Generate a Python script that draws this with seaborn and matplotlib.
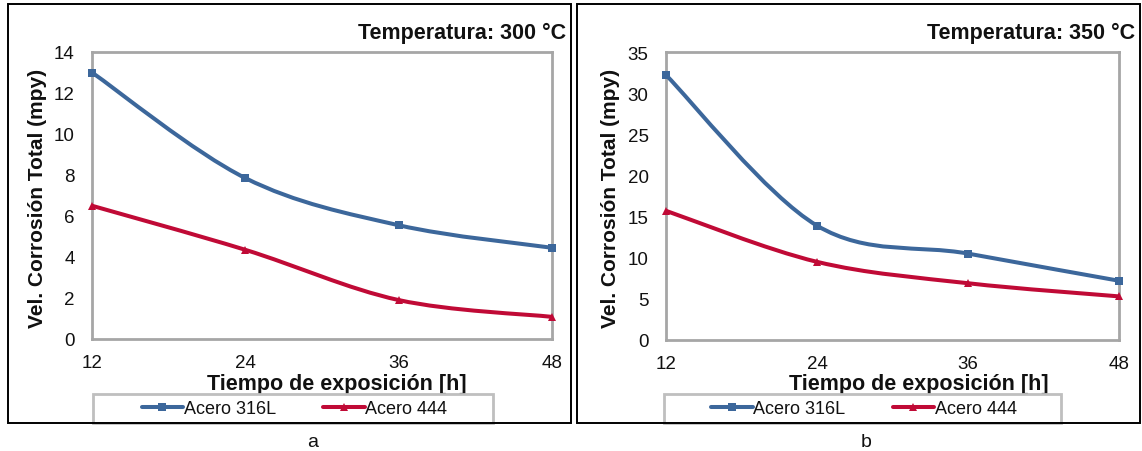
import numpy as np
import pandas as pd
import matplotlib
matplotlib.use("Agg")
import matplotlib.pyplot as plt
import seaborn as sns
from matplotlib.path import Path
from matplotlib.patches import PathPatch, Rectangle
from matplotlib.lines import Line2D

# ---------------- data ----------------
horas = [12, 24, 36, 48]
series = ["Acero 316L", "Acero 444"]
acero316L_300 = [13.0, 7.85, 5.55, 4.45]
acero444_300 = [6.5, 4.35, 1.9, 1.08]
acero316L_350 = [32.2, 13.9, 10.5, 7.2]
acero444_350 = [15.7, 9.5, 6.9, 5.3]
titulos = ["Temperatura: 300 °C", "Temperatura: 350 °C"]
etiquetas = ["a", "b"]
xlabel = "Tiempo de exposición [h]"
ylabel = "Vel. Corrosión Total (mpy)"

colores = {"Acero 316L": "#3c679b", "Acero 444": "#c00a36"}
marcadores = {"Acero 316L": "s", "Acero 444": "^"}

sns.set_theme(style="white")
plt.rcParams["font.family"] = ["Liberation Sans", "DejaVu Sans"]

W, H = 1142, 452
fig = plt.figure(figsize=(W / 100, H / 100), dpi=100)


def fx(px):
    return px / W


def fy(py):
    return 1 - py / H


def smooth_path(x, y, k=1 / 6):
    n = len(x)
    verts = [(x[0], y[0])]
    codes = [Path.MOVETO]
    for i in range(n - 1):
        p0 = i - 1 if i > 0 else i
        p3 = i + 2 if i + 2 < n else i + 1
        c1 = (x[i] + (x[i + 1] - x[p0]) * k, y[i] + (y[i + 1] - y[p0]) * k)
        c2 = (x[i + 1] - (x[p3] - x[i]) * k, y[i + 1] - (y[p3] - y[i]) * k)
        verts += [c1, c2, (x[i + 1], y[i + 1])]
        codes += [Path.CURVE4] * 3
    return Path(verts, codes)


paneles = [
    dict(data={"Acero 316L": acero316L_300, "Acero 444": acero444_300},
         ax_px=(92, 53, 552, 340), ymax=14, ystep=2,
         border=(8, 5, 571, 424), title_x=566, xlab_x=336.5, ylab_x=38,
         legend_box=(93, 395, 493, 424), legend_cx=294.5, label_x=313),
    dict(data={"Acero 316L": acero316L_350, "Acero 444": acero444_350},
         ax_px=(666, 53, 1119, 341), ymax=35, ystep=5,
         border=(577, 5, 1140, 424), title_x=1135, xlab_x=919, ylab_x=610,
         legend_box=(664, 395, 1061, 424), legend_cx=864, label_x=866),
]

frame_col = "#a6a6a6"

for p, titulo, etq in zip(paneles, titulos, etiquetas):
    x0, y0, x1, y1 = p["ax_px"]
    ax = fig.add_axes([fx(x0), fy(y1), (x1 - x0) / W, (y1 - y0) / H])
    ax.set_facecolor("white")

    df = pd.concat([pd.DataFrame({"Tiempo": horas, "Valor": v, "Serie": s})
                    for s, v in p["data"].items()], ignore_index=True)
    sns.lineplot(data=df, x="Tiempo", y="Valor", hue="Serie", style="Serie",
                 palette=colores, markers=marcadores, dashes=False,
                 linewidth=0, markersize=6, markeredgewidth=0,
                 legend=False, ax=ax, clip_on=False, zorder=4)
    for s, v in p["data"].items():
        ax.add_patch(PathPatch(smooth_path(horas, v), fill=False,
                               edgecolor=colores[s], lw=2.9,
                               capstyle="butt", joinstyle="round",
                               clip_on=False, zorder=3))

    ax.set_xlim(horas[0], horas[-1])
    ax.set_ylim(0, p["ymax"])
    ax.set_xticks(horas)
    ax.set_yticks(np.arange(0, p["ymax"] + 0.1, p["ystep"]))
    for sp in ax.spines.values():
        sp.set_color(frame_col)
        sp.set_linewidth(2.0)
    ax.tick_params(direction="out", length=4, width=1.3, color=frame_col,
                   labelsize=13.5, labelcolor="#111111")
    ax.tick_params(axis="y", pad=8.5)
    ax.tick_params(axis="x", pad=6.5)
    ax.set_xlabel(xlabel, fontsize=15.5, fontweight="bold", color="#111111")
    ax.set_ylabel(ylabel, fontsize=15, fontweight="bold", color="#111111")
    ax.xaxis.set_label_coords((p["xlab_x"] - x0) / (x1 - x0), (y1 - 385) / (y1 - y0))
    ax.xaxis.label.set_va("center")
    ax.yaxis.set_label_coords((p["ylab_x"] - x0) / (x1 - x0), (y1 - 198) / (y1 - y0))
    ax.yaxis.label.set_va("center")

    # title
    fig.text(fx(p["title_x"]), fy(33), titulo, ha="right", va="center",
             fontsize=15.5, fontweight="bold", color="#111111")

    # legend box + legend
    lx0, ly0, lx1, ly1 = p["legend_box"]
    fig.add_artist(Rectangle((fx(lx0), fy(ly1)), (lx1 - lx0) / W, (ly1 - ly0) / H,
                             transform=fig.transFigure, fill=False,
                             edgecolor="#bfbfbf", lw=2.0, zorder=5))
    handles = [Line2D([], [], color=colores[s], lw=2.9, marker=marcadores[s],
                      markersize=6, markeredgewidth=0) for s in series]
    fig.legend(handles, series, loc="center", ncol=2,
               bbox_to_anchor=(fx(p["legend_cx"]), fy(410)),
               bbox_transform=fig.transFigure, frameon=False,
               fontsize=13, handlelength=2.3, handletextpad=0.05,
               columnspacing=2.6, borderpad=0, labelcolor="#111111")

    # panel border
    bx0, by0, bx1, by1 = p["border"]
    fig.add_artist(Rectangle((fx(bx0), fy(by1)), (bx1 - bx0) / W, (by1 - by0) / H,
                             transform=fig.transFigure, fill=False,
                             edgecolor="black", lw=1.4, zorder=6))
    fig.text(fx(p["label_x"]), fy(443), etq, ha="center", va="center",
             fontsize=14, color="#111111")

fig.savefig("out.png", dpi=100, facecolor="white")
